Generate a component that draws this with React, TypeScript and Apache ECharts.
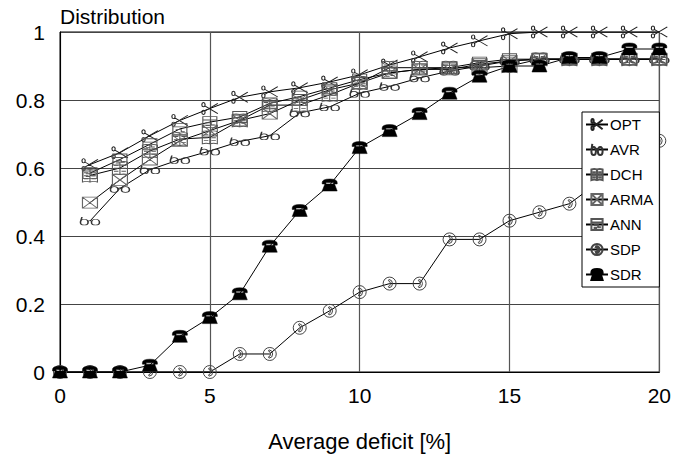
import React, { useEffect, useRef } from "react";
import * as echarts from "echarts";

const xValues = [0, 1, 2, 3, 4, 5, 6, 7, 8, 9, 10, 11, 12, 13, 14, 15, 16, 17, 18, 19, 20];
const seriesNames = ["OPT", "AVR", "DCH", "ARMA", "ANN", "SDP", "SDR"];
const optValues = [null, 0.61, 0.645, 0.695, 0.74, 0.775, 0.808, 0.824, 0.836, 0.853, 0.874, 0.903, 0.927, 0.953, 0.974, 0.995, 1.0, 1.0, 1.0, 1.0, 1.0];
const avrValues = [null, 0.444, 0.54, 0.595, 0.625, 0.65, 0.678, 0.695, 0.762, 0.78, 0.82, 0.84, 0.865, 0.885, 0.9, 0.915, 0.92, 0.92, 0.92, 0.92, 0.92];
const dchValues = [null, 0.578, 0.6, 0.65, 0.685, 0.69, 0.74, 0.785, 0.785, 0.815, 0.85, 0.895, 0.895, 0.895, 0.895, 0.9, 0.92, 0.92, 0.92, 0.92, 0.92];
const armaValues = [null, 0.498, 0.565, 0.625, 0.68, 0.71, 0.74, 0.76, 0.8, 0.83, 0.85, 0.88, 0.89, 0.89, 0.905, 0.915, 0.92, 0.92, 0.92, 0.92, 0.92];
const annValues = [null, 0.585, 0.625, 0.67, 0.715, 0.735, 0.75, 0.79, 0.81, 0.835, 0.86, 0.88, 0.89, 0.895, 0.91, 0.92, 0.92, 0.92, 0.92, 0.92, 0.92];
const sdpValues = [0, 0, 0, 0, 0, 0, 0.053, 0.053, 0.13, 0.18, 0.235, 0.26, 0.26, 0.39, 0.39, 0.445, 0.47, 0.495, 0.56, 0.62, 0.68];
const sdrValues = [0, 0, 0, 0.02, 0.105, 0.16, 0.23, 0.37, 0.475, 0.55, 0.66, 0.71, 0.76, 0.82, 0.87, 0.9, 0.9, 0.925, 0.925, 0.95, 0.95];

const scissors = "path://M2 22 a10 10 0 1 0 20 0 a10 10 0 1 0 -20 0 Z M2 58 a10 10 0 1 0 20 0 a10 10 0 1 0 -20 0 Z M20 28 L100 64 M20 52 L100 16";
const glasses = "path://M0 60 Q0 42 20 42 Q40 42 40 60 Q40 74 20 74 Q0 74 0 60 Z M58 60 Q58 42 79 42 Q100 42 100 60 Q100 74 79 74 Q58 74 58 60 Z M40 54 Q49 44 58 54 M0 56 L8 30";
const book = "path://M0 8 Q25 0 50 8 Q75 0 100 8 L100 92 Q75 84 50 92 Q25 84 0 92 Z M50 8 L50 92 M10 30 L40 30 M60 30 L90 30 M10 50 L40 50 M60 50 L90 50 M10 70 L40 70 M60 70 L90 70";
const envelope = "path://M0 0 L100 0 L100 75 L0 75 Z M0 0 L100 75 M100 0 L0 75";
const form = "path://M0 0 L100 0 L100 80 L0 80 Z M0 25 L100 25 M20 45 L60 45 L60 60 L85 60 M20 65 L50 65";
const dialCircle = "path://M0 50 a50 50 0 1 0 100 0 a50 50 0 1 0 -100 0 Z M45 18 Q72 22 72 50 Q72 80 45 82 L40 72 Q56 70 56 50 Q56 30 40 28 Z";
const phone = "path://M0 35 Q0 10 50 10 Q100 10 100 35 L100 45 L75 45 L75 35 L25 35 L25 45 L0 45 Z M18 45 L82 45 L100 95 L0 95 Z";

function toPairs(vals: (number | null)[]) {
  return xValues.map((x, i) => [x, vals[i] === null ? "-" : vals[i]]);
}

export default function App() {
  const ref = useRef<HTMLDivElement>(null);
  useEffect(() => {
    const chart = echarts.init(ref.current!, null, { renderer: "svg" });
    const font = "Liberation Sans, Arial, sans-serif";
    const outline = (border: string) => ({ color: "rgba(255,255,255,0)", borderColor: border, borderWidth: 1 });
    const defs = [
      { name: "OPT", data: optValues, symbol: scissors, size: [16, 12], item: outline("#222") },
      { name: "AVR", data: avrValues, symbol: glasses, size: [19, 8], item: outline("#333") },
      { name: "DCH", data: dchValues, symbol: book, size: [15, 13], item: outline("#555") },
      { name: "ARMA", data: armaValues, symbol: envelope, size: [15, 11], item: outline("#666") },
      { name: "ANN", data: annValues, symbol: form, size: [14, 11], item: outline("#555") },
      { name: "SDP", data: sdpValues, symbol: dialCircle, size: [13, 13], item: outline("#444") },
      { name: "SDR", data: sdrValues, symbol: phone, size: [15, 12], item: { color: "#000", borderColor: "#000", borderWidth: 0.5 } },
    ];
    chart.setOption({
      animation: false,
      textStyle: { fontFamily: font },
      grid: { left: 60, right: 14, top: 32, bottom: 84, show: true, borderColor: "#000", borderWidth: 1, backgroundColor: "#fff" },
      graphic: [
        { type: "text", left: 60, top: 6, style: { text: "Distribution", fontSize: 21, fontFamily: font, fill: "#000" } },
      ],
      legend: {
        orient: "vertical",
        left: 582,
        top: 112,
        backgroundColor: "#fff",
        borderColor: "#000",
        borderWidth: 1,
        borderRadius: 0,
        padding: [5, 6, 5, 3],
        itemGap: 10,
        itemWidth: 22,
        itemHeight: 14,
        textStyle: { fontSize: 15, color: "#000", fontFamily: font, padding: [0, 0, 0, -3] },
        data: seriesNames,
      },
      xAxis: {
        type: "value",
        min: 0,
        max: 20,
        interval: 5,
        name: "Average deficit [%]",
        nameLocation: "middle",
        nameGap: 58,
        nameTextStyle: { fontSize: 22, color: "#000", fontFamily: font },
        axisLine: { show: true, lineStyle: { color: "#000", width: 1 } },
        axisTick: { show: false },
        axisLabel: { fontSize: 21, color: "#000", margin: 13, fontFamily: font },
        splitLine: { show: true, lineStyle: { color: "#555", width: 1.2 } },
      },
      yAxis: {
        type: "value",
        min: 0,
        max: 1,
        interval: 0.2,
        axisLine: { show: true, lineStyle: { color: "#000", width: 1 } },
        axisTick: { show: false },
        axisLabel: { fontSize: 21, color: "#000", margin: 15, fontFamily: font, padding: [6, 0, 0, 0] },
        splitLine: { show: true, lineStyle: { color: "#444", width: 1.2 } },
      },
      series: defs.map((d) => ({
        name: d.name,
        type: "line",
        data: toPairs(d.data),
        symbol: d.symbol,
        symbolSize: d.size,
        showAllSymbol: true,
        itemStyle: d.item,
        lineStyle: { color: "#000", width: 1 },
        emphasis: { disabled: true },
      })),
    });
    return () => chart.dispose();
  }, []);
  return <div ref={ref} style={{ position: "absolute", left: 0, top: 0, width: 674, height: 457 }} />;
}
